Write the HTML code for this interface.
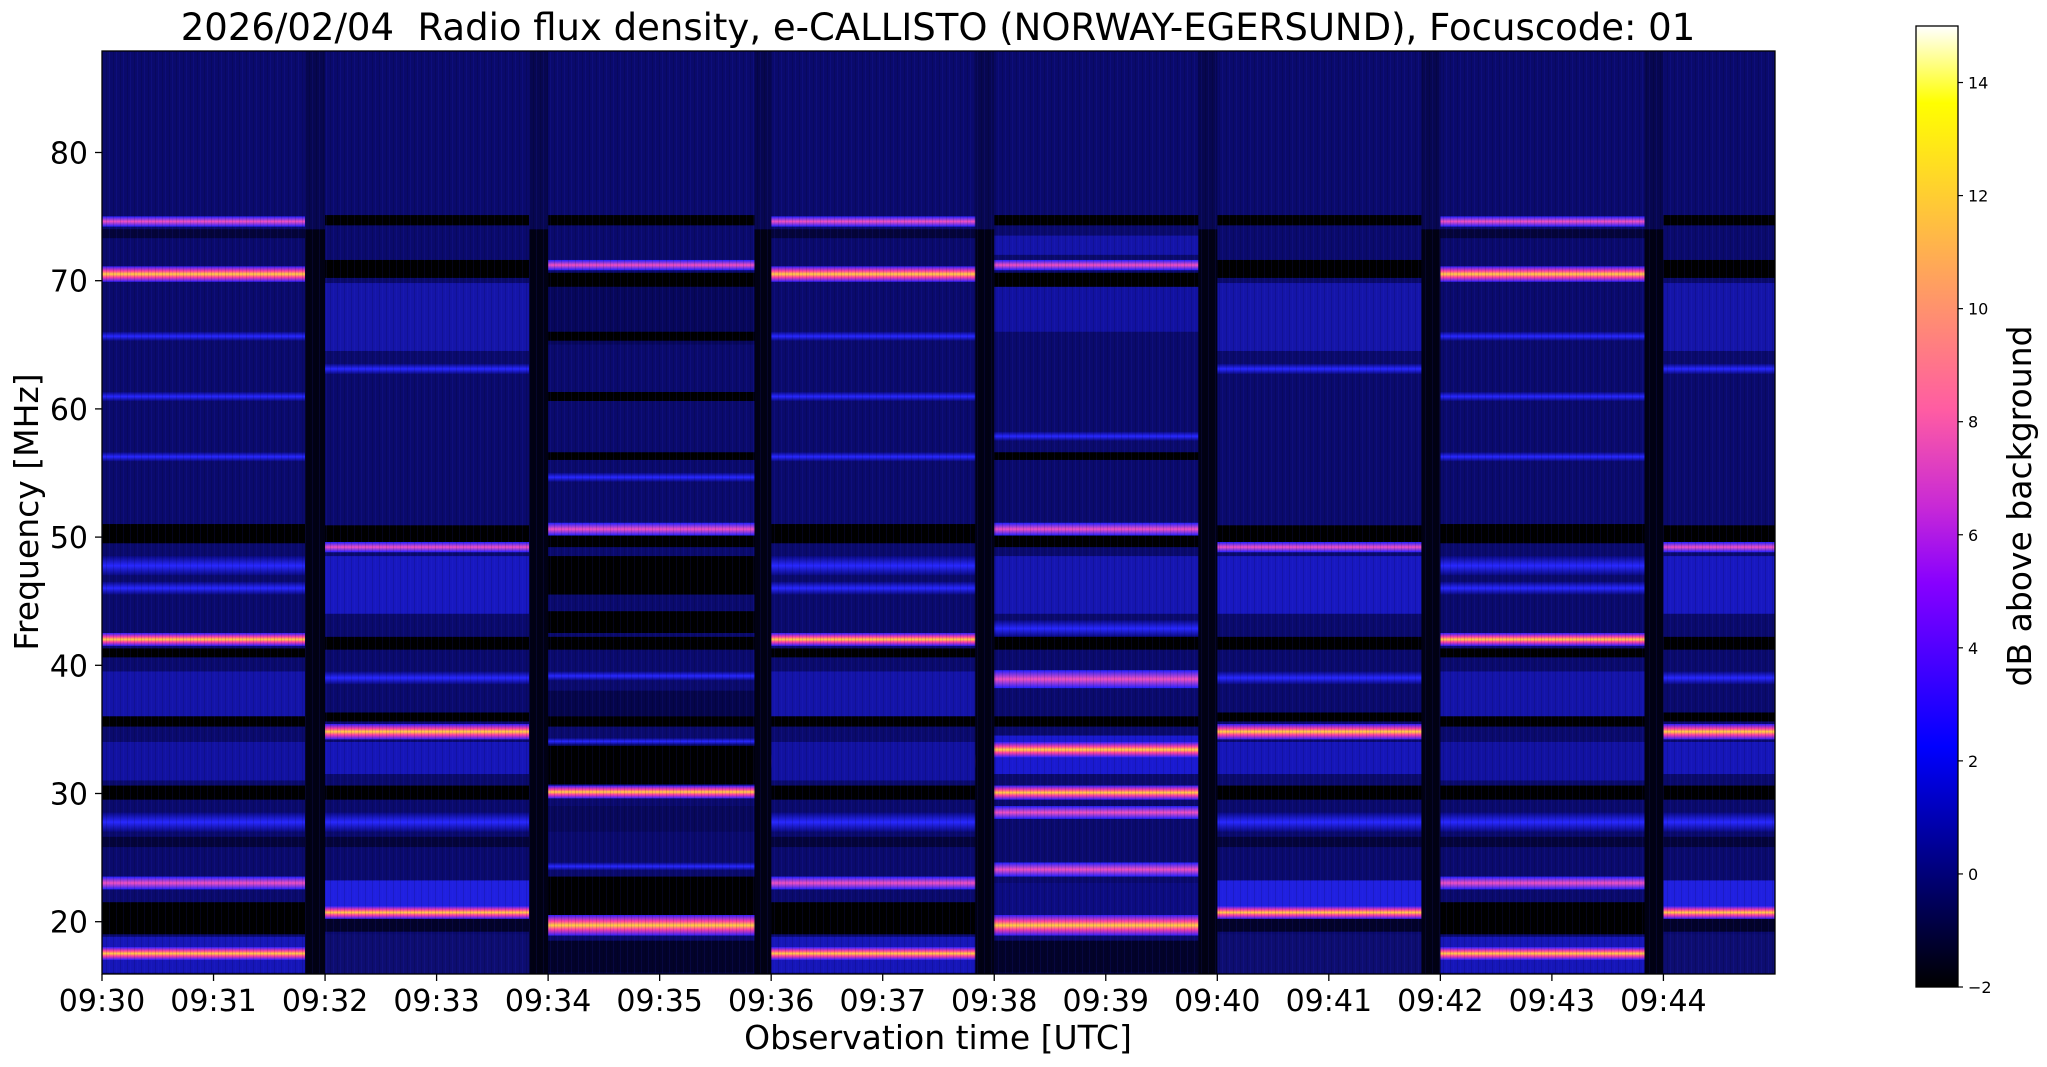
<!DOCTYPE html>
<html><head><meta charset="utf-8"><style>
html,body{margin:0;padding:0;background:#fff;width:2047px;height:1067px;overflow:hidden}
svg text{font-family:"DejaVu Sans","Liberation Sans",sans-serif;fill:#000}
</style></head><body>
<svg id="s" width="2047" height="1067" xmlns="http://www.w3.org/2000/svg">
<defs>
<linearGradient id="hot" x1="0" y1="0" x2="0" y2="1">
<stop offset="0" stop-color="#3020ff"/><stop offset="0.3" stop-color="#ff40a0"/><stop offset="0.5" stop-color="#ffd040"/><stop offset="0.7" stop-color="#ff40a0"/><stop offset="1" stop-color="#3020ff"/></linearGradient>
<linearGradient id="pink" x1="0" y1="0" x2="0" y2="1">
<stop offset="0" stop-color="#2020ff"/><stop offset="0.5" stop-color="#f050c0"/><stop offset="1" stop-color="#2020ff"/></linearGradient>
<linearGradient id="blu" x1="0" y1="0" x2="0" y2="1">
<stop offset="0" stop-color="#0a0a80"/><stop offset="0.5" stop-color="#2828ff"/><stop offset="1" stop-color="#0a0a80"/></linearGradient>
<linearGradient id="cb" x1="0" y1="1" x2="0" y2="0">
<stop offset="0" stop-color="#000"/><stop offset="0.125" stop-color="#000080"/><stop offset="0.25" stop-color="#0000ff"/><stop offset="0.42" stop-color="#8700ff"/><stop offset="0.5" stop-color="#c829d6"/><stop offset="0.6" stop-color="#ff5ca3"/><stop offset="0.75" stop-color="#ffa857"/><stop offset="0.92" stop-color="#ffff00"/><stop offset="1" stop-color="#fff"/></linearGradient>
<pattern id="noise" width="7" height="10" patternUnits="userSpaceOnUse">
<rect x="1" width="1" height="10" fill="#000" opacity="0.12"/><rect x="4" width="1" height="10" fill="#3030ff" opacity="0.1"/></pattern>
</defs>
<svg id="plot" x="102" y="51" width="1673" height="923" viewBox="0 -87.9 15 72" preserveAspectRatio="none"></svg>
<rect x="102" y="51" width="1673" height="923" fill="url(#noise)"/>
<rect x="102" y="51" width="1673" height="923" fill="none" stroke="#000" stroke-width="1.3"/>
<g id="ax"></g>
<text x="938" y="40" font-size="37" text-anchor="middle" xml:space="preserve">2026/02/04  Radio flux density, e-CALLISTO (NORWAY-EGERSUND), Focuscode: 01</text>
<text x="938" y="1049" font-size="33" text-anchor="middle">Observation time [UTC]</text>
<text transform="translate(38,512) rotate(-90)" font-size="33" text-anchor="middle">Frequency [MHz]</text>
<rect x="1916" y="26" width="42" height="961" fill="url(#cb)" stroke="#000" stroke-width="1.3"/>
<text transform="translate(2031,506) rotate(-90)" font-size="33" text-anchor="middle">dB above background</text>
</svg>
<script>
var P=document.getElementById('plot'),A=document.getElementById('ax'),ns='http://www.w3.org/2000/svg';
function r(x0,x1,f0,f1,c){var e=document.createElementNS(ns,'rect');e.setAttribute('x',x0);e.setAttribute('width',x1-x0);e.setAttribute('y',-f1);e.setAttribute('height',f1-f0);e.setAttribute('fill',c);P.appendChild(e);}
r(0,15,15.9,87.9,'#0a0a6c');
var K='#000',B='url(#blu)',H='url(#hot)',Pk='url(#pink)',BB='#1818d0';
var pat={
A:[[74.2,75,Pk],[73.3,74,'#04043a'],[69.9,71.1,H],[65.3,66,B],[60.6,61.3,B],[55.9,56.6,B],[49.5,51,K],[47,48.5,B],[45.5,46.5,B],[41.5,42.5,H],[40.6,41.3,K],[36,39.5,'#1414a8'],[35.2,36,K],[32,33,Pk],[31,34,'#1212a0'],[29.5,30.6,K],[27,28.5,B],[25.8,26.6,'#04043a'],[22.5,23.5,Pk],[19,21.5,K],[16,18.8,'#1616b8'],[17,18,H]],
B:[[74.3,75.1,K],[70.2,71.6,K],[64.5,69.8,'#1515a8'],[62.7,63.5,B],[49.6,50.9,K],[48.8,49.6,Pk],[44,48.5,'#1818c0'],[41.2,42.2,K],[38.5,39.5,B],[35.6,36.3,K],[34.2,35.4,H],[31.5,34,'#1616b8'],[29.5,30.6,K],[27,28.5,B],[25.8,26.6,'#04043a'],[21.2,23.2,'#2020e0'],[20.2,21.2,H],[19.2,20.2,'#02022a'],[16,19,'#0d0d70']],
C:[[74.3,75.1,K],[70.8,71.6,Pk],[69.5,70.6,K],[65,69.5,'#07075a'],[65.3,66,'#000'],[60.6,61.3,K],[56,56.6,K],[54.3,55,B],[50.1,51.1,Pk],[49.2,50.1,K],[45.5,48.5,'#000'],[42.5,44.2,K],[41.2,42.2,K],[38.8,39.5,B],[36,38,'#05054a'],[35.2,36,K],[33.8,34.3,B],[30.7,33.7,K],[29.6,30.6,H],[27,29,'#08085a'],[24,24.6,B],[20.5,23.5,K],[18.9,20.5,H],[16,18.5,'#02022a']],
D:[[74.3,75.1,K],[72,73.5,'#1414a8'],[70.8,71.6,Pk],[69.5,70.6,K],[66,69.5,'#1212a0'],[57.5,58.2,B],[56,56.6,K],[50.1,51.1,Pk],[49.2,50.1,K],[44,48.5,'#1616b0'],[42.2,43.5,B],[41.2,42.2,K],[38.2,39.6,Pk],[35.2,36,K],[31.5,34.5,'#1a1ad0'],[32.8,34,H],[29.5,30.6,H],[28,29,Pk],[23.5,24.6,Pk],[20.5,23,'#0c0c80'],[18.9,20.5,H],[16,18.5,'#02022a']]
};
var segs=[[0,1.82,'A'],[2,3.83,'B'],[4,5.85,'C'],[6,7.83,'A'],[8,9.83,'D'],[10,11.83,'B'],[12,13.83,'A'],[14,15,'B']];
var gaps=[[1.82,2],[3.83,4],[5.85,6],[7.83,8],[9.83,10],[11.83,12],[13.83,14]];
segs.forEach(function(s){pat[s[2]].forEach(function(b){r(s[0],s[1],b[0],b[1],b[2]);});});
gaps.forEach(function(g){r(g[0],g[1],15.9,74,'#010114');r(g[0],g[1],74,87.9,'#070750');});
var x0=102,pm=111.53;
for(var i=0;i<15;i++){var x=x0+i*pm;A.innerHTML+='<line x1="'+x+'" x2="'+x+'" y1="974" y2="981" stroke="#000" stroke-width="1.3"/><text x="'+x+'" y="1011" font-size="30" text-anchor="middle">09:'+(30+i)+'</text>';}
for(var f=20;f<=80;f+=10){var y=921.7-(f-20)*12.82;A.innerHTML+='<line x1="95" x2="102" y1="'+y+'" y2="'+y+'" stroke="#000" stroke-width="1.3"/><text x="88" y="'+(y+11)+'" font-size="30" text-anchor="end">'+f+'</text>';}
for(var v=-2;v<=14;v+=2){var y=987-(v+2)*56.53;A.innerHTML+='<line x1="1958" x2="1963" y1="'+y+'" y2="'+y+'" stroke="#000" stroke-width="1.2"/><text x="1968" y="'+(y+6)+'" font-size="16">'+(v<0?'\u2212'+(-v):v)+'</text>';}
</script>
</body></html>
